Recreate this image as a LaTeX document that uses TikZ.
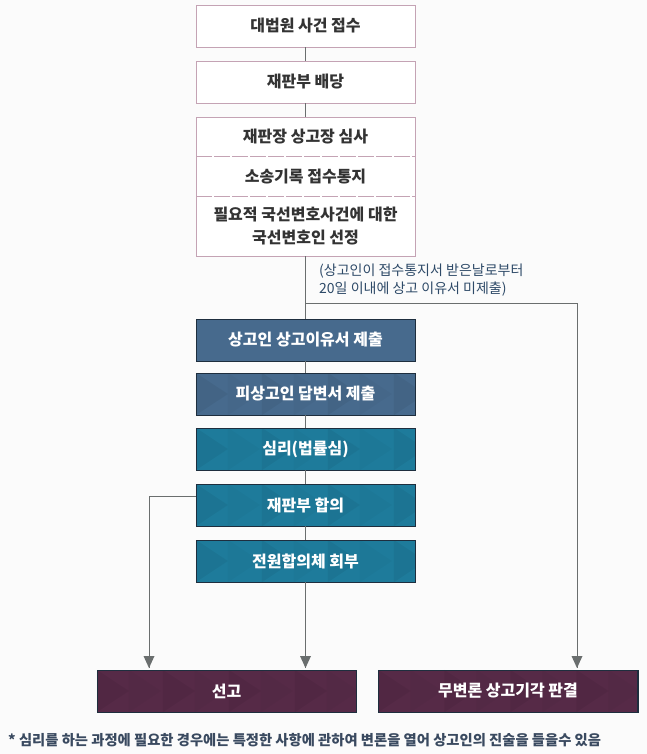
\documentclass[tikz,border=0pt]{standalone}
\usepackage{fontspec}
\setmainfont{Noto Sans CJK KR}
\definecolor{pinkb}{HTML}{C4A3B4}
\definecolor{txt}{HTML}{333333}
\definecolor{slate}{HTML}{476A8D}
\definecolor{teal}{HTML}{1E7B9B}
\definecolor{maroon}{HTML}{562A47}
\definecolor{edge}{HTML}{1E2E3E}
\definecolor{ln}{HTML}{6A6E6E}
\definecolor{note}{HTML}{2E4A68}
\definecolor{foot}{HTML}{3A4A60}
\begin{document}
\begin{tikzpicture}[x=1pt,y=-1pt,
  every node/.style={font=\fontsize{16}{19}\bfseries\selectfont},
  wbox/.style={draw=pinkb, fill=white, minimum width=219pt, minimum height=42pt, inner sep=0pt, text=txt},
  cbox/.style={draw=edge, fill=#1, minimum width=219pt, minimum height=42pt, inner sep=0pt, text=white},
  lbox/.style={draw=edge, fill=maroon, minimum width=259pt, minimum height=42pt, inner sep=0pt, text=white},
  conn/.style={draw=ln, line width=1pt},
  tip/.style={fill=ln}]
\useasboundingbox (0,0) rectangle (647,754);
\fill[white!97!gray] (0,0) rectangle (647,754);

% top boxes
\node[wbox] (a) at (305.5,26) {대법원 사건 접수};
\node[wbox] (b) at (305.5,82) {재판부 배당};
\node[wbox, minimum height=139pt] (c) at (305.5,186.5) {};
\draw[pinkb, dash pattern=on 16pt off 2pt] (196,156) -- (415,156);
\draw[pinkb, dash pattern=on 16pt off 2pt] (196,196) -- (415,196);
\node[text=txt] (c1) at (305.5,137) {재판장 상고장 심사};
\node[text=txt] (c2) at (305.5,176.5) {소송기록 접수통지};
\node[text=txt, align=center, font=\fontsize{16}{23}\bfseries\selectfont] (c3) at (305.5,226) {필요적 국선변호사건에 대한\\국선변호인 선정};

% colored boxes
\node[cbox=slate] (d) at (305.5,340) {};
\node[cbox=slate] (e) at (305.5,394) {};
\node[cbox=teal] (f) at (305.5,449) {};
\node[cbox=teal] (g) at (305.5,505) {};
\node[cbox=teal] (h) at (305.5,561) {};
\node[lbox] (s) at (226.5,691) {};
\node[lbox] (m) at (508,691) {};

% chevron pattern
\foreach \n in {e,f,g,h,s,m}{
  \begin{scope}
    \clip (\n.north west) rectangle (\n.south east);
    \foreach \k in {0,1,2,3,4}{
      \fill[black, opacity=0.05] ([xshift=\k*66pt]\n.north west) -- ([xshift=\k*66pt+32pt]\n.west) -- ([xshift=\k*66pt]\n.south west) -- cycle;
      \fill[black, opacity=0.025] ([xshift=\k*66pt+32pt]\n.north west) -- ([xshift=\k*66pt+64pt]\n.west) -- ([xshift=\k*66pt+32pt]\n.south west) -- cycle;
    }
  \end{scope}
  \draw[edge] (\n.north west) rectangle (\n.south east);
}
\node[text=white] at (d) {상고인 상고이유서 제출};
\node[text=white] at (e) {피상고인 답변서 제출};
\node[text=white] at (f) {심리(법률심)};
\node[text=white] at (g) {재판부 합의};
\node[text=white] at (h) {전원합의체 회부};
\node[text=white] at (s) {선고};
\node[text=white] at (m) {무변론 상고기각 판결};

% connectors
\draw[conn] (a) -- (b);
\draw[conn] (b) -- (c);
\draw[conn] (c) -- (d);
\draw[conn] (d) -- (e);
\draw[conn] (e) -- (f);
\draw[conn] (f) -- (g);
\draw[conn] (g) -- (h);
\coordinate (br) at (305.5,303);
\coordinate (rt) at (577,303);
\coordinate (ra) at (577,668);
\draw[conn] (br) -- (rt) -- (ra);
\coordinate (gl) at (149,496);
\coordinate (la) at (149,668);
\draw[conn] (g.west |- gl) -- (gl) -- (la);
\coordinate (ca) at (305.5,668);
\draw[conn] (h) -- (ca);
\foreach \p in {la,ca,ra}{
  \fill[tip] ([yshift=12pt]\p) ++(-5.5pt,0) -- ++(11pt,0) -- (\p) -- cycle;
}

% annotation
\node[text=note, anchor=west, align=left, font=\fontsize{14}{18}\selectfont, inner sep=0pt] (ann) at (319,280) {(상고인이 접수통지서 받은날로부터\\20일 이내에 상고 이유서 미제출)};

% footnote
\node[text=foot, anchor=west, inner sep=0pt, font=\fontsize{14.3}{16}\bfseries\selectfont] (fn) at (8,740) {* 심리를 하는 과정에 필요한 경우에는 특정한 사항에 관하여 변론을 열어 상고인의 진술을 들을수 있음};
\end{tikzpicture}
\end{document}
